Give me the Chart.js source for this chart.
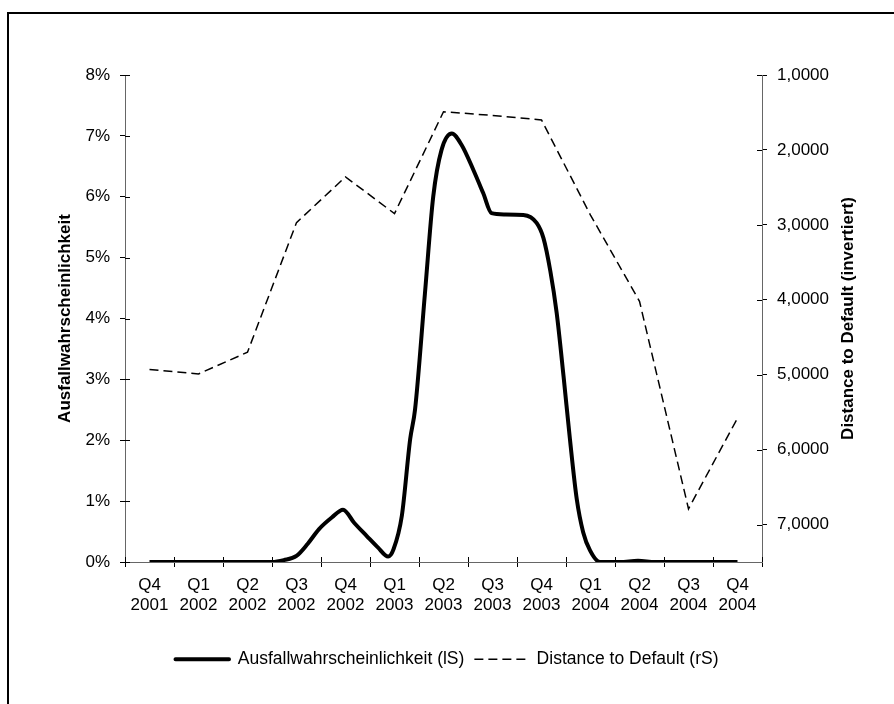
<!DOCTYPE html>
<html lang="de">
<head>
<meta charset="utf-8">
<title>Ausfallwahrscheinlichkeit und Distance to Default</title>
<script src="https://cdn.jsdelivr.net/npm/chart.js@4.4.1/dist/chart.umd.min.js"></script>
<style>
  html, body { margin: 0; padding: 0; background: #fff; overflow: hidden; }
  #frame { position: absolute; left: 7px; top: 12px; width: 1000px; height: 1000px; border: 2px solid #000; }
  #wrap { position: absolute; left: 0; top: 0; width: 894px; height: 704px; }
</style>
</head>
<body>
<div id="frame"></div>
<div id="wrap"><canvas id="chart"></canvas></div>
<script>
// Quartale der x-Achse
const quarterLabels = [
  ['Q4', '2001'], ['Q1', '2002'], ['Q2', '2002'], ['Q3', '2002'], ['Q4', '2002'],
  ['Q1', '2003'], ['Q2', '2003'], ['Q3', '2003'], ['Q4', '2003'],
  ['Q1', '2004'], ['Q2', '2004'], ['Q3', '2004'], ['Q4', '2004']
];

// Distance to Default je Quartal (rechte Achse, invertiert)
const ddValues = [4.93, 4.99, 4.70, 2.97, 2.36, 2.85, 1.49, 1.54, 1.60, 2.87, 4.02, 6.79, 5.58];

// Ausfallwahrscheinlichkeit in %, Zeitpunkt in Quartalen ab Q4 2001
const pdTimes = [0, 2.5, 2.74, 3.0, 3.23, 3.46, 3.72, 3.95, 4.18, 4.43,
  4.66, 4.87, 4.98, 5.15, 5.32, 5.42, 5.62, 5.79, 5.96, 6.17,
  6.37, 6.61, 6.81, 6.98, 7.24, 7.63, 7.90, 8.04, 8.18, 8.31,
  8.45, 8.58, 8.72, 8.85, 8.99, 9.19, 9.60, 9.97, 10.32, 12.0];
const pdValues = [0, 0, 0.03, 0.10, 0.30, 0.54, 0.73, 0.86, 0.64, 0.43,
  0.24, 0.09, 0.21, 0.76, 2.02, 2.51, 4.4, 6.0, 6.77, 7.04,
  6.85, 6.44, 6.06, 5.73, 5.71, 5.70, 5.57, 5.32, 4.78, 4.09,
  3.05, 2.02, 1.03, 0.49, 0.19, 0, 0, 0.02, 0, 0];

// Achsenteilung
const pdTicks = [0, 1, 2, 3, 4, 5, 6, 7, 8];
const ddTicks = [1, 2, 3, 4, 5, 6, 7];
const ddTitle = 'Distance to Default (invertiert)';

Chart.defaults.font.family = '"Liberation Sans", Arial, sans-serif';
Chart.defaults.font.size = 17;
Chart.defaults.color = '#000';

// Teilstriche nach innen (Achsenkreuz wie in Excel)
const innerTicks = {
  id: 'innerTicks',
  beforeDatasetsDraw(chart) {
    const { ctx, chartArea: a, scales } = chart;
    ctx.save();
    ctx.strokeStyle = '#000';
    ctx.lineWidth = 1;
    ctx.beginPath();
    pdTicks.forEach(v => {
      const y = Math.round(scales.y.getPixelForValue(v)) + 0.5;
      ctx.moveTo(a.left, y); ctx.lineTo(a.left + 5, y);
    });
    ddTicks.forEach(v => {
      const y = Math.round(scales.y2.getPixelForValue(v)) + 0.5;
      ctx.moveTo(a.right - 5, y); ctx.lineTo(a.right, y);
    });
    for (let i = 0; i <= quarterLabels.length; i++) {
      const x = Math.round(scales.x2.getPixelForValue(i - 0.5)) + 0.5;
      ctx.moveTo(x, a.bottom); ctx.lineTo(x, a.bottom - 5);
    }
    ctx.stroke();
    ctx.restore();
  }
};

// rechter Achsentitel, von unten nach oben gelesen
const rightTitle = {
  id: 'rightTitle',
  afterDraw(chart) {
    const { ctx } = chart;
    const s = chart.scales.y2;
    ctx.save();
    ctx.translate(s.right - 46, (s.top + s.bottom) / 2);
    ctx.rotate(-Math.PI / 2);
    ctx.font = 'bold 17px "Liberation Sans", Arial, sans-serif';
    ctx.fillStyle = '#000';
    ctx.textAlign = 'center';
    ctx.textBaseline = 'middle';
    ctx.fillText(ddTitle, 0, 0);
    ctx.restore();
  }
};

const fmtDD = v => v.toFixed(4).replace('.', ',');

new Chart(document.getElementById('chart'), {
  type: 'line',
  data: {
    labels: quarterLabels,
    datasets: [
      {
        label: 'Ausfallwahrscheinlichkeit (lS)',
        data: pdTimes.map((t, i) => ({ x: t, y: pdValues[i] })),
        xAxisID: 'x2',
        yAxisID: 'y',
        borderColor: '#000',
        backgroundColor: '#000',
        borderWidth: 4,
        pointRadius: 0,
        cubicInterpolationMode: 'monotone',
        borderJoinStyle: 'round',
        fill: false
      },
      {
        label: 'Distance to Default (rS)',
        data: ddValues,
        xAxisID: 'x',
        yAxisID: 'y2',
        borderColor: '#000',
        backgroundColor: '#000',
        borderWidth: 1.5,
        borderDash: [9, 5],
        pointRadius: 0,
        tension: 0,
        fill: false
      }
    ]
  },
  options: {
    responsive: true,
    maintainAspectRatio: false,
    animation: false,
    layout: { padding: { top: 75, left: 0, right: 0, bottom: 26 } },
    plugins: {
      tooltip: { enabled: false },
      legend: {
        position: 'bottom',
        labels: {
          // 2 * Breite = Strichlänge (mod Periode), damit die Strichelung sichtbar bleibt
          boxWidth: 53.5,
          boxHeight: 0,
          padding: 10,
          font: { size: 17.5 }
        }
      }
    },
    scales: {
      x: {
        type: 'category',
        offset: true,
        border: { color: '#666', width: 1 },
        grid: { offset: true, drawOnChartArea: false, tickLength: 5, tickColor: '#000' },
        ticks: { padding: 8, maxRotation: 0, autoSkip: false, font: { size: 17, lineHeight: 1.2 } },
        afterFit: s => { s.height = 78.5; }
      },
      x2: {
        type: 'linear',
        display: false,
        min: -0.5,
        max: quarterLabels.length - 0.5
      },
      y: {
        position: 'left',
        min: 0,
        max: 8,
        border: { color: '#666', width: 1 },
        grid: { drawOnChartArea: false, tickLength: 5, tickColor: '#000' },
        afterBuildTicks: s => { s.ticks = pdTicks.map(v => ({ value: v })); },
        ticks: { padding: 10, callback: v => v + '%' },
        title: {
          display: true,
          text: 'Ausfallwahrscheinlichkeit',
          font: { size: 17, weight: 'bold', lineHeight: 1.2 },
          padding: { top: 55, bottom: 0 }
        },
        afterFit: s => { s.width = 125; }
      },
      y2: {
        position: 'right',
        reverse: true,
        min: 1,
        max: 7.5,
        border: { color: '#666', width: 1 },
        grid: { drawOnChartArea: false, tickLength: 5, tickColor: '#000' },
        afterBuildTicks: s => { s.ticks = ddTicks.map(v => ({ value: v })); },
        ticks: { padding: 10, callback: v => fmtDD(v) },
        afterFit: s => { s.width = 132; }
      }
    }
  },
  plugins: [innerTicks, rightTitle]
});
</script>
</body>
</html>
